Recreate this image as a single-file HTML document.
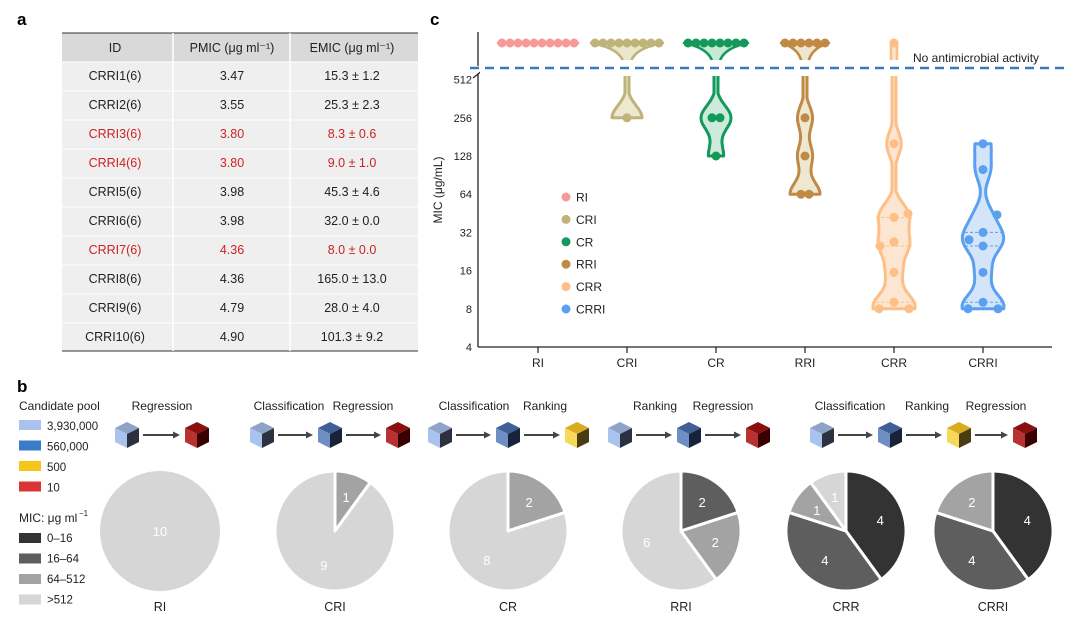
<!DOCTYPE html>
<html><head><meta charset="utf-8"><style>
body{margin:0;background:#fff}
svg{display:block;font-family:"Liberation Sans",sans-serif}
</style></head><body>
<svg id="s" width="1080" height="623" viewBox="0 0 1080 623">
<text x="17" y="25" font-size="17" font-weight="bold">a</text>
<text x="17" y="392" font-size="17" font-weight="bold">b</text>
<text x="430" y="25" font-size="17" font-weight="bold">c</text>
<g id="table"></g>
<g id="chart"></g>
<g id="pies"></g>
</svg>
<script>
const NS='http://www.w3.org/2000/svg';
function mk(p,t,a,txt){const e=document.createElementNS(NS,t);for(const k in a)e.setAttribute(k,a[k]);if(txt!==undefined)e.textContent=txt;p.appendChild(e);return e;}
// ---- table ----
const ids=['CRRI1(6)','CRRI2(6)','CRRI3(6)','CRRI4(6)','CRRI5(6)','CRRI6(6)','CRRI7(6)','CRRI8(6)','CRRI9(6)','CRRI10(6)'];
const pmic=['3.47','3.55','3.80','3.80','3.98','3.98','4.36','4.36','4.79','4.90'];
const emic=['15.3 ± 1.2','25.3 ± 2.3','8.3 ± 0.6','9.0 ± 1.0','45.3 ± 4.6','32.0 ± 0.0','8.0 ± 0.0','165.0 ± 13.0','28.0 ± 4.0','101.3 ± 9.2'];
const redRows=[2,3,6];
const T=document.getElementById('table');
let r=mk(T,'rect',{x:62,y:33,width:356,height:29,fill:'#d9d9d9'});

r=mk(T,'rect',{x:62,y:62,width:356,height:289,fill:'#efefef'});

mk(T,'line',{x1:62,x2:418,y1:33,y2:33,stroke:'#333','stroke-width':1});
mk(T,'line',{x1:62,x2:418,y1:62,y2:62,stroke:'#fff','stroke-width':1});
mk(T,'line',{x1:62,x2:418,y1:351,y2:351,stroke:'#333','stroke-width':1});
mk(T,'line',{x1:173,x2:173,y1:33,y2:351,stroke:'#fff','stroke-width':1.5});
mk(T,'line',{x1:290,x2:290,y1:33,y2:351,stroke:'#fff','stroke-width':1.5});
const hd=[['ID',115],['PMIC (μg ml⁻¹)',232],['EMIC (μg ml⁻¹)',352]];
hd.forEach(h=>{const t=mk(T,'text',{x:h[1],y:52,'font-size':12.5,'text-anchor':'middle',fill:'#222'},h[0]);
});
ids.forEach((id,i)=>{const y=80+i*29;const c=redRows.includes(i)?'#cc2222':'#222';
if(i>0)mk(T,'line',{x1:62,x2:418,y1:y-18,y2:y-18,stroke:'#fff','stroke-width':1});
[[id,115],[pmic[i],232],[emic[i],352]].forEach(v=>{const t=mk(T,'text',{x:v[1],y:y,'font-size':12.5,'text-anchor':'middle',fill:c},v[0]);
});});
</script>
<script>
// ---- violin chart ----
const groups=['RI','CRI','CR','RRI','CRR','CRRI'];
const gColors=['#f79a9a','#bfb37a','#139a5b','#c08a45','#fdbf85','#5a9ff0'];
const gFills=['#fdd','#ece6cc','#c8e8d6','#ece6cc','#fde3cc','#cfe2fa'];
const naCounts=[10,9,8,6,1,0];
const vals=[[],[256],[256,256,128],[256,128,64,64],[160,42,45,27,25,15.5,9,8,8],[160,100,44,32,28,25,15.5,9,8,8]];
const yTicks=[4,8,16,32,64,128,256,512];
const C=document.getElementById('chart');
const x0=478,xStep=89,xFirst=538;
const xs=i=>xFirst+i*xStep;
const ys=v=>347-38.2*Math.log2(v/4);
const yNA=43;
mk(C,'line',{x1:x0,x2:x0,y1:32,y2:66,stroke:'#222','stroke-width':1.3});
mk(C,'line',{x1:x0,x2:x0,y1:74,y2:347,stroke:'#222','stroke-width':1.3});
mk(C,'line',{x1:473,x2:483,y1:78,y2:70,stroke:'#222','stroke-width':1.2});
mk(C,'line',{x1:x0,x2:1052,y1:347,y2:347,stroke:'#222','stroke-width':1.3});
yTicks.forEach(v=>{const t=mk(C,'text',{x:x0-6,y:ys(v)+4,'font-size':11,'text-anchor':'end',fill:'#222'},v);
});
const yt=mk(C,'text',{x:442,y:190,'font-size':12,'text-anchor':'middle',transform:'rotate(-90 442 190)',fill:'#222'},'MIC (μg/mL)');

groups.forEach((g,i)=>{mk(C,'line',{x1:xs(i),x2:xs(i),y1:347,y2:353,stroke:'#222','stroke-width':1.2});
const t=mk(C,'text',{x:xs(i),y:367,'font-size':12,'text-anchor':'middle',fill:'#222'},g);
});
const topV=568;
groups.forEach((g,i)=>{
 const cx=xs(i),col=gColors[i],fl=gFills[i],v=vals[i],na=naCounts[i];
 const G=mk(C,'g',{});
 let wTop=3;
 if(v.length>0){
  const lv=v.map(a=>Math.log2(a));const mn=Math.min(...lv),mx=Math.max(...lv);
  const top=na>0?Math.log2(topV):mx,bw=0.32;const N=50;let maxd=0;const ds=[];
  for(let k=0;k<=N;k++){const y=mn+(top-mn)*k/N;let d=0;lv.forEach(a=>d+=Math.exp(-0.5*((y-a)/bw)**2));ds.push([y,d]);maxd=Math.max(maxd,d);}
  const W=v.length>=6?21:15;const L=[],R=[];
  ds.forEach(([y,d])=>{const w=Math.max(2,W*d/maxd);const py=347-38.2*(y-2);L.push([cx-w,py]);R.push([cx+w,py]);wTop=w;});
  const p=L.concat(R.reverse()).map(q=>q[0].toFixed(1)+','+q[1].toFixed(1)).join(' ');
  mk(G,'polygon',{points:p,fill:fl,'fill-opacity':0.9,stroke:col,'stroke-width':3,'stroke-linejoin':'round'});
  if(v.length>=6){const s=[...lv].sort((a,b)=>a-b);[0.25,0.5,0.75].forEach(q=>{const yq=347-38.2*(s[Math.floor(q*(s.length-1))]-2);
   mk(G,'line',{x1:cx-18,x2:cx+18,y1:yq,y2:yq,stroke:col,'stroke-width':1,'stroke-dasharray':'3 2'});});}
 }
 if(na>1){const wt=(na-1)*4+4,wb=Math.max(3,wTop);
  const d=v.length>0?`M${cx-wt},${yNA} Q${cx-wb},${yNA+6} ${cx-wb},${yNA+24} L${cx+wb},${yNA+24} Q${cx+wb},${yNA+6} ${cx+wt},${yNA} Z`:`M${cx-wt},${yNA} L${cx+wt},${yNA} Z`;
  mk(G,'path',{d,fill:fl,stroke:col,'stroke-width':2.5,'stroke-linejoin':'round'});}
 if(na===1&&v.length>0){mk(G,'rect',{x:cx-3,y:yNA,width:6,height:30,fill:fl,stroke:col,'stroke-width':2.5});}
 const cnt={};v.forEach(a=>{cnt[a]=(cnt[a]||0)+1;});
 const seen={};
 v.forEach((a,idx)=>{seen[a]=(seen[a]||0)+1;const n=cnt[a],j=seen[a]-1;
  const dx=n>1?(j-(n-1)/2)*(v.length>6?30:8):(v.length>6?[0,0,1,0,-1,0,0][idx%7]*14:0);
  const c=mk(G,'circle',{cx:cx+dx,cy:ys(a),r:4.5,fill:col});});
 for(let k=0;k<na;k++){const c=mk(G,'circle',{cx:cx+(k-(na-1)/2)*8,cy:yNA,r:4.5,fill:col});
  }
});
mk(C,'rect',{x:480,y:60,width:580,height:16,fill:'#fff'});
const dl=mk(C,'line',{x1:470,x2:1068,y1:68,y2:68,stroke:'#3a78c0','stroke-width':2.5,'stroke-dasharray':'9 6'});

mk(C,'rect',{x:910,y:48,width:155,height:16,fill:'#fff'});
const nt=mk(C,'text',{x:913,y:62,'font-size':12,fill:'#222'},'No antimicrobial activity');

groups.forEach((g,i)=>{const y=197+i*22.4;const c=mk(C,'circle',{cx:566,cy:y,r:4.5,fill:gColors[i]});

const t=mk(C,'text',{x:576,y:y+4.5,'font-size':12,fill:'#222'},g);});
</script>
<script>
// ---- panel b ----
const pieNames=['RI','CRI','CR','RRI','CRR','CRRI'];
const bin0=[0,0,0,0,4,4];
const bin1=[0,0,0,2,4,4];
const bin2=[0,1,2,2,1,2];
const bin3=[10,9,8,6,1,0];
const binColors=['#333333','#5e5e5e','#a3a3a3','#d6d6d6'];
const binLabels=['0–16','16–64','64–512','>512'];
const poolLabels=['3,930,000','560,000','500','10'];
const poolColors=['#a9c3ee','#3a7cc8','#f5c518','#d93535'];
const P=document.getElementById('pies');
const pcx=[160,335,508,681,846,993],pcy=531,pr=60;
const lt=mk(P,'text',{x:19,y:410,'font-size':12,fill:'#222'},'Candidate pool');
poolLabels.forEach((l,i)=>{const y=426+i*20.5;mk(P,'rect',{x:19,y:y-6,width:22,height:10,fill:poolColors[i]});
const t=mk(P,'text',{x:47,y:y+4,'font-size':11.5,fill:'#222'},l);});
const mt=mk(P,'text',{x:19,y:522,'font-size':12,fill:'#222'},'MIC: μg ml');
mk(P,'text',{x:79,y:516,'font-size':8,fill:'#222'},'−1');
binLabels.forEach((l,i)=>{const y=538+i*20.5;mk(P,'rect',{x:19,y:y-5,width:22,height:10,fill:binColors[i]});
const t=mk(P,'text',{x:47,y:y+4,'font-size':11.5,fill:'#222'},l);});
pieNames.forEach((n,i)=>{const counts=[bin0[i],bin1[i],bin2[i],bin3[i]];const tot=counts.reduce((a,b)=>a+b,0);
 const G=mk(P,'g',{});
 let a0=0;counts.forEach((c,k)=>{if(!c)return;const a1=a0+c/tot*2*Math.PI;const cx=pcx[i],cy=pcy;
  let el;if(c===tot){el=mk(G,'circle',{cx,cy,r:pr,fill:binColors[k]});}
  else{const x1=cx+pr*Math.sin(a0),y1=cy-pr*Math.cos(a0),x2=cx+pr*Math.sin(a1),y2=cy-pr*Math.cos(a1);
   el=mk(G,'path',{d:`M${cx},${cy} L${x1},${y1} A${pr},${pr} 0 ${a1-a0>Math.PI?1:0} 1 ${x2},${y2} Z`,fill:binColors[k],stroke:'#fff','stroke-width':3,'stroke-linejoin':'round'});}
  
  const am=(a0+a1)/2,rr=c===tot?0:pr*0.6;
  const t=mk(G,'text',{x:cx+rr*Math.sin(am),y:cy-rr*Math.cos(am)+5,'font-size':13,'text-anchor':'middle',fill:'#fff'},c);
  a0=a1;});
 const t=mk(G,'text',{x:pcx[i],y:611,'font-size':12.5,'text-anchor':'middle',fill:'#222'},n);
 });
const cubeCols={L:['#8ea3c8','#a9c3ee','#2b3140'],B:['#3f5f96','#6f8fc4','#18223a'],Y:['#d9ab1e','#f7d95a','#4a3c10'],R:['#8a0f0f','#b83232','#3a0000']};
const flows=[
 {steps:['Regression'],sx:[162],cubes:['L','R'],cx:[127,197]},
 {steps:['Classification','Regression'],sx:[289,363],cubes:['L','B','R'],cx:[262,330,398]},
 {steps:['Classification','Ranking'],sx:[474,545],cubes:['L','B','Y'],cx:[440,508,577]},
 {steps:['Ranking','Regression'],sx:[655,723],cubes:['L','B','R'],cx:[620,689,758]},
 {steps:['Classification','Ranking','Regression'],sx:[850,927,996],cubes:['L','B','Y','R'],cx:[822,890,959,1025]}];
flows.forEach(f=>{f.steps.forEach((s,k)=>{const t=mk(P,'text',{x:f.sx[k],y:410,'font-size':12,'text-anchor':'middle',fill:'#222'},s);
 });
 f.cubes.forEach((c,k)=>{const x=f.cx[k],y=435,s=13,h=7;const cc=cubeCols[c];
  const G=mk(P,'g',{});
  mk(G,'polygon',{points:`${x},${y-s} ${x+12},${y-h} ${x},${y-1} ${x-12},${y-h}`,fill:cc[0]});
  mk(G,'polygon',{points:`${x-12},${y-h} ${x},${y-1} ${x},${y+s} ${x-12},${y+h}`,fill:cc[1]});
  mk(G,'polygon',{points:`${x+12},${y-h} ${x},${y-1} ${x},${y+s} ${x+12},${y+h}`,fill:cc[2]});
  if(k>0){const xa=f.cx[k-1]+16,xb=x-17;mk(P,'line',{x1:xa,x2:xb-5,y1:y,y2:y,stroke:'#444','stroke-width':2});
   mk(P,'polygon',{points:`${xb},${y} ${xb-7},${y-3.5} ${xb-7},${y+3.5}`,fill:'#444'});}});});
</script>
</body></html>
